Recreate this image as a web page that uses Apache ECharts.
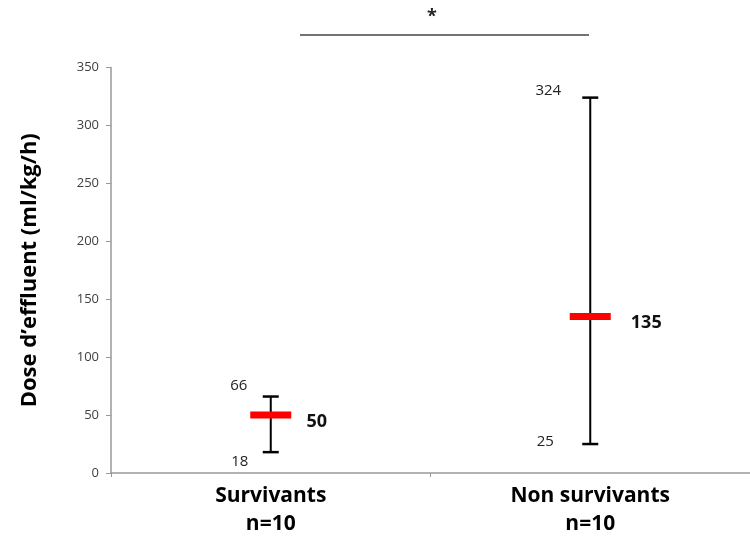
<!DOCTYPE html>
<html>
<head>
<meta charset="utf-8">
<script src="https://cdn.jsdelivr.net/npm/echarts@6/dist/echarts.min.js"></script>
<style>html,body{margin:0;padding:0;background:#fff}#c{width:750px;height:540px}</style>
</head>
<body>
<div id="c"></div>
<script>
// ---- data ----
const categories = ['Survivants\nn=10', 'Non survivants\nn=10'];
const minValues = [18, 25];
const maxValues = [66, 324];
const medianValues = [50, 135];
const yTicks = [0, 50, 100, 150, 200, 250, 300, 350];
const yAxisTitle = 'Dose d\u2019effluent (ml/kg/h)';
const significance = '*';

// ---- label layout (pixel offsets from the mark) ----
const labelLayout = [
  { hi: [-32, -11], lo: [-31, 10], med: [46, 7] },
  { hi: [-42, -7], lo: [-45, -2], med: [56, 6] }
];

const seriesData = categories.map((c, i) => [i, minValues[i], maxValues[i], medianValues[i]]);

const chart = echarts.init(document.getElementById('c'), null, { renderer: 'canvas' });
const FONT = '"Open Sans", "Noto Sans", sans-serif';

chart.setOption({
  animation: false,
  backgroundColor: '#fff',
  grid: { left: 111, right: -10, top: 67.5, bottom: 67, containLabel: false },
  xAxis: {
    type: 'category',
    data: categories,
    boundaryGap: true,
    axisLine: { lineStyle: { color: '#999', width: 1.5 } },
    axisTick: { show: true, length: 4, lineStyle: { color: '#999' } },
    axisLabel: {
      color: '#000', fontFamily: FONT, fontWeight: 'bold', fontSize: 21,
      lineHeight: 28, margin: 9
    },
    splitLine: { show: false }
  },
  yAxis: {
    type: 'value',
    min: yTicks[0], max: yTicks[yTicks.length - 1], interval: yTicks[1] - yTicks[0],
    axisLine: { show: true, lineStyle: { color: '#999', width: 1.5 } },
    axisTick: { show: true, length: 5, lineStyle: { color: '#999' } },
    axisLabel: { color: '#404040', fontFamily: FONT, fontSize: 13, margin: 12 },
    splitLine: { show: false },
    name: yAxisTitle,
    nameLocation: 'middle',
    nameGap: 70,
    nameRotate: 90,
    nameTextStyle: { color: '#000', fontFamily: FONT, fontWeight: 'bold', fontSize: 22 }
  },
  series: [{
    type: 'custom',
    data: seriesData,
    encode: { x: 0, y: [1, 2, 3] },
    clip: false,
    renderItem: function (params, api) {
      const i = api.value(0);
      const lo = api.coord([i, api.value(1)]);
      const hi = api.coord([i, api.value(2)]);
      const md = api.coord([i, api.value(3)]);
      const x = lo[0];
      const L = labelLayout[params.dataIndex];
      const capW = 16, medW = 41, medH = 7;
      const lineStyle = { stroke: '#000', lineWidth: 2 };
      return {
        type: 'group',
        children: [
          { type: 'line', shape: { x1: x, y1: hi[1], x2: x, y2: lo[1] }, style: lineStyle },
          { type: 'line', shape: { x1: x - capW / 2, y1: hi[1], x2: x + capW / 2, y2: hi[1] }, style: { stroke: '#000', lineWidth: 2.5 } },
          { type: 'line', shape: { x1: x - capW / 2, y1: lo[1], x2: x + capW / 2, y2: lo[1] }, style: { stroke: '#000', lineWidth: 2.5 } },
          { type: 'rect', shape: { x: x - medW / 2, y: md[1] - medH / 2, width: medW, height: medH }, style: { fill: '#ff0000' } },
          { type: 'text', x: x + L.hi[0], y: hi[1] + L.hi[1], style: { text: String(api.value(2)), align: 'center', verticalAlign: 'middle', font: '15px ' + FONT, fill: '#222' } },
          { type: 'text', x: x + L.lo[0], y: lo[1] + L.lo[1], style: { text: String(api.value(1)), align: 'center', verticalAlign: 'middle', font: '15px ' + FONT, fill: '#222' } },
          { type: 'text', x: x + L.med[0], y: md[1] + L.med[1], style: { text: String(api.value(3)), align: 'center', verticalAlign: 'middle', font: 'bold 18px ' + FONT, fill: '#111' } }
        ]
      };
    }
  }],
  graphic: [
    { type: 'line', shape: { x1: 300, y1: 35, x2: 589, y2: 35 }, style: { stroke: '#444', lineWidth: 1.5 } },
    { type: 'text', x: 432, y: 17, style: { text: significance, align: 'center', verticalAlign: 'middle', font: 'bold 18px ' + FONT, fill: '#222' } }
  ]
});
</script>
</body>
</html>
